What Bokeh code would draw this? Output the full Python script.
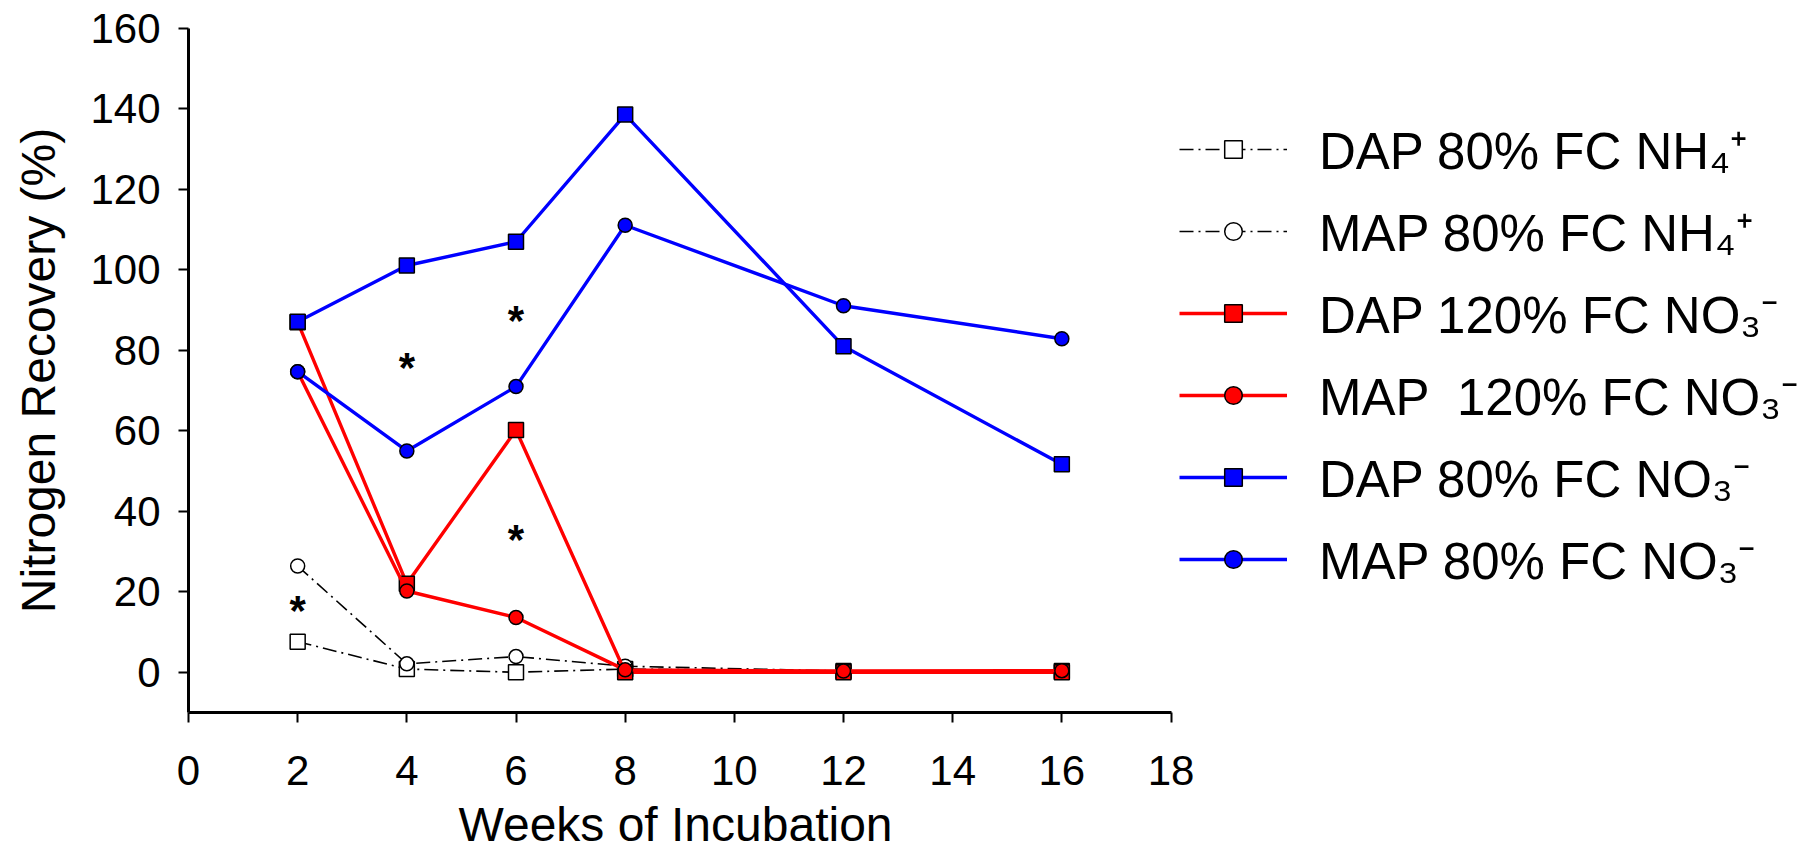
from bokeh.plotting import figure
from bokeh.models import Legend, LegendItem, ColumnDataSource, FixedTicker, Title
from bokeh.embed import file_html
from bokeh.resources import INLINE
from bokeh.core.properties import value

# ---- data ----
weeks = [2, 4, 6, 8, 12, 16]
dap80_nh4 = [7.6, 0.8, 0.0, 0.8, 0.3, 0.3]
map80_nh4 = [26.4, 2.1, 3.9, 1.5, 0.3, 0.3]
dap120_no3 = [87.0, 22.0, 60.2, 0.0, 0.0, 0.0]
map120_no3 = [74.7, 20.2, 13.6, 0.6, 0.3, 0.4]
dap80_no3 = [87.1, 101.1, 107.0, 138.6, 81.0, 51.7]
map80_no3 = [74.7, 55.0, 71.0, 111.1, 91.1, 82.9]

series_labels = [
    "DAP 80% FC NH₄⁺",
    "MAP 80% FC NH₄⁺",
    "DAP 120% FC NO₃⁻",
    "MAP  120% FC NO₃⁻",
    "DAP 80% FC NO₃⁻",
    "MAP 80% FC NO₃⁻",
]
star_x = [2, 4, 6, 6]
star_y = [16.5, 77.1, 88.7, 34.3]
star_text = ["*", "*", "*", "*"]

x_ticks = [0, 2, 4, 6, 8, 10, 12, 14, 16, 18]
y_ticks = [0, 20, 40, 60, 80, 100, 120, 140, 160]
x_axis_span = (0, 18)
x_title = "Weeks of Incubation"
y_title = "Nitrogen Recovery (%)"

# ---- styles ----
series_values = [dap80_nh4, map80_nh4, dap120_no3, map120_no3, dap80_no3, map80_no3]
line_colors = ["black", "black", "#FF0000", "#FF0000", "#0000FF", "#0000FF"]
line_widths = [1.6, 1.6, 3.4, 3.4, 3.4, 3.4]
line_dashes = ["14 5 2 5", "14 5 2 5", "solid", "solid", "solid", "solid"]
markers = ["square", "circle", "square", "circle", "square", "circle"]
fills = ["white", "white", "#FF0000", "#FF0000", "#0000FF", "#0000FF"]
sizes = [15, 14, 15, 14, 15, 14]

FONT = "Liberation Sans"

# plotting frame: x=0 at 188px, x=18 at ~1170px; frame extends to right edge
FRAME_LEFT = 188
FRAME_TOP = 28
FRAME_BOTTOM_BORDER = 151
PX_PER_UNIT = 982.5 / 18.0
x_end = (1804 - FRAME_LEFT) / PX_PER_UNIT

p = figure(
    width=1804, height=863,
    frame_width=1804 - FRAME_LEFT, frame_height=863 - FRAME_TOP - FRAME_BOTTOM_BORDER,
    x_range=(0, x_end), y_range=(-10, 160),
    output_backend="svg", toolbar_location=None,
    min_border_left=FRAME_LEFT, min_border_right=0,
    min_border_top=FRAME_TOP, min_border_bottom=FRAME_BOTTOM_BORDER,
)
p.outline_line_color = None
p.xgrid.visible = False
p.ygrid.visible = False
p.background_fill_color = "white"
p.border_fill_color = "white"

items = []
for lab, vals, lc, lw, ld, mk, fc, sz in zip(series_labels, series_values, line_colors,
                                            line_widths, line_dashes, markers, fills, sizes):
    src = ColumnDataSource(dict(x=weeks, y=vals))
    lr = p.line("x", "y", source=src, line_color=lc, line_width=lw, line_dash=ld)
    sr = p.scatter("x", "y", source=src, marker=mk, size=sz, fill_color=fc,
                   line_color="black", line_width=1.5)
    items.append(LegendItem(label=lab, renderers=[lr, sr]))

star_src = ColumnDataSource(dict(x=star_x, y=star_y, t=star_text))
p.text("x", "y", text="t", source=star_src, text_font=value(FONT),
       text_font_size="42px", text_font_style="bold", text_align="center",
       text_baseline="middle", y_offset=5, text_color="black")

# axes
p.xaxis.ticker = FixedTicker(ticks=x_ticks)
p.yaxis.ticker = FixedTicker(ticks=y_ticks)
p.xaxis.bounds = x_axis_span
for ax in (p.xaxis[0], p.yaxis[0]):
    ax.axis_line_width = 3
    ax.axis_line_color = "black"
    ax.major_tick_line_width = 2
    ax.major_tick_line_color = "black"
    ax.major_tick_out = 10
    ax.major_tick_in = 0
    ax.minor_tick_out = 0
    ax.minor_tick_in = 0
    ax.major_label_text_font = FONT
    ax.major_label_text_font_size = "42px"
    ax.major_label_text_color = "black"
    ax.axis_label_text_font = FONT
    ax.axis_label_text_font_size = "48px"
    ax.axis_label_text_font_style = "normal"
    ax.axis_label_text_color = "black"
p.yaxis.axis_label = y_title
p.xaxis.major_label_standoff = 33
p.yaxis.major_label_standoff = 18
p.yaxis.axis_label_standoff = 22

# x-axis title, under the 0-18 span of the axis
p.add_layout(Title(
    text=x_title, align="left", offset=270, vertical_align="bottom", standoff=16,
    text_font=FONT, text_font_size="48px", text_font_style="normal", text_color="black",
), "below")

legend = Legend(
    items=items, location=(991, 118),
    glyph_width=108, glyph_height=44, label_height=67, spacing=12, padding=10, margin=0,
    label_standoff=32, label_text_font=FONT, label_text_font_size="51px",
    label_text_color="black", border_line_color=None, background_fill_alpha=0,
)
p.add_layout(legend, "center")

open("out.html", "w").write(file_html(p, INLINE))
